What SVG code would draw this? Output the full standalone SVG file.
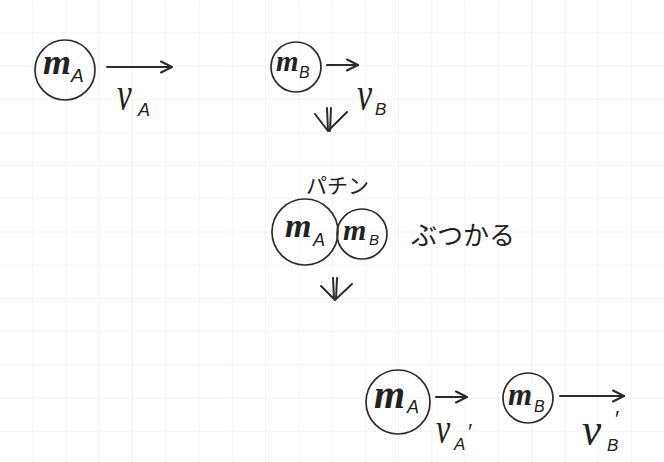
<svg xmlns="http://www.w3.org/2000/svg" width="664" height="462" viewBox="0 0 664 462">
<defs>
<pattern id="grid" patternUnits="userSpaceOnUse" x="32.3" y="32.3" width="33.25" height="33.2">
<rect x="0" y="0" width="0.8" height="33.2" fill="#f1f1f1"/>
<rect x="0" y="0" width="33.25" height="0.8" fill="#f1f1f1"/>
</pattern>
<marker id="head" markerUnits="userSpaceOnUse" markerWidth="20" markerHeight="14" refX="0" refY="0" viewBox="-12 -7 14 14" orient="auto" overflow="visible">
<path d="M-11,-5.5 L0,0 L-11,5.5" fill="none" stroke="#2b2b2b" stroke-width="2" stroke-linecap="round" stroke-linejoin="round"/>
</marker>
</defs>
<style>
.ball{fill:none;stroke:#2b2b2b;stroke-width:1.7}
.m{font-family:"Liberation Serif",serif;font-style:italic;font-weight:bold;fill:#222}
.sub{font-family:"Liberation Sans",sans-serif;font-style:italic;fill:#222}
.v{font-family:"Liberation Serif",serif;font-style:italic;fill:#222}
.arr{fill:none;stroke:#2b2b2b;stroke-width:2;stroke-linecap:round;marker-end:url(#head)}
.dn{fill:none;stroke:#2b2b2b;stroke-width:2;stroke-linecap:round;stroke-linejoin:round}
.jp{font-family:"Noto Sans CJK JP",sans-serif;fill:#222}
</style>
<rect width="664" height="462" fill="#ffffff"/>
<rect width="664" height="462" fill="url(#grid)"/>

<g id="mA-before">
<circle class="ball" cx="65" cy="70" r="30"/>
<text class="m" x="43" y="74" font-size="36">m</text>
<text class="sub" x="71" y="82" font-size="19">A</text>
</g>
<g id="mB-before">
<circle class="ball" cx="296" cy="67" r="25"/>
<text class="m" x="276" y="71" font-size="29">m</text>
<text class="sub" x="299" y="78" font-size="16">B</text>
</g>
<g id="vA-label">
<text class="v" transform="translate(117,110) scale(1,1.45)" font-size="33">v</text>
<text class="sub" x="138" y="116" font-size="18">A</text>
</g>
<g id="vB-label">
<text class="v" transform="translate(357,110) scale(1,1.4)" font-size="34">v</text>
<text class="sub" x="375" y="115" font-size="17">B</text>
</g>

<g id="collision">
<text class="jp" x="306" y="193" font-size="21">パチン</text>
<circle class="ball" cx="305" cy="232" r="33"/>
<text class="m" x="285" y="237" font-size="34">m</text>
<text class="sub" x="313" y="246" font-size="18">A</text>
<circle class="ball" cx="362" cy="234" r="25"/>
<text class="m" x="343" y="240" font-size="30">m</text>
<text class="sub" x="369" y="245" font-size="15">B</text>
<text class="jp" x="411" y="245" font-size="26">ぶつかる</text>
</g>

<g id="mA-after">
<circle class="ball" cx="398" cy="402" r="32"/>
<text class="m" x="374" y="408" font-size="40">m</text>
<text class="sub" x="407" y="413" font-size="18">A</text>
</g>
<g id="mB-after">
<circle class="ball" cx="528" cy="398" r="25"/>
<text class="m" x="508" y="405" font-size="31">m</text>
<text class="sub" x="534" y="412" font-size="16">B</text>
</g>
<g id="vA-after-label">
<text class="v" transform="translate(436,443) scale(1,1.4)" font-size="32">v</text>
<text class="sub" x="454" y="450" font-size="17">A</text>
<text class="sub" x="467" y="439" font-size="22">′</text>
</g>
<g id="vB-after-label">
<text class="v" transform="translate(582,445) scale(1.2,1.3)" font-size="36">v</text>
<text class="sub" x="607" y="451" font-size="17">B</text>
<text class="sub" x="614" y="426" font-size="22">′</text>
</g>

<g id="connectors">
<path class="arr" d="M107,67 L172,67"/>
<path class="arr" d="M327,65 L358,65"/>
<path class="dn" d="M327,108 L328,131 M331,108 L330,131 M315,114 L328,131 L347,112"/>
<path class="dn" d="M333,278 L334,299 M337,278 L336,299 M321,286 L335,300 L352,284"/>
<path class="arr" d="M436,397 L467,397"/>
<path class="arr" d="M560,396 L624,396"/>
</g>
</svg>
